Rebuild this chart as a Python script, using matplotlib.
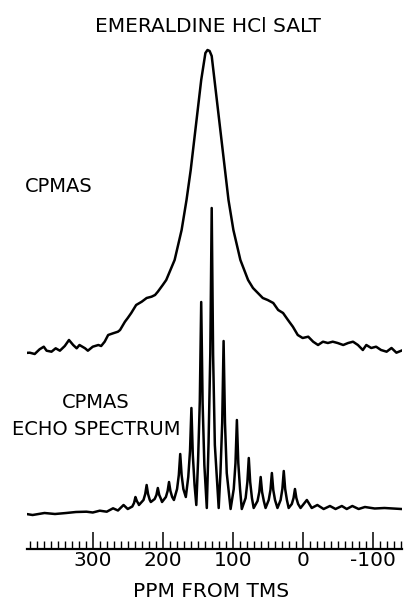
import matplotlib
matplotlib.use("Agg")
import matplotlib.pyplot as plt
import numpy as np

# ---- data ----
# CPMAS spectrum: chemical shift (ppm) and intensity (a.u.)
cpmas_ppm = [398, 390, 383, 376, 370, 366, 359, 353, 347, 340,
             334, 328, 323, 319, 311, 307, 300, 292, 288, 283,
             278, 271, 264, 261, 254, 250, 245, 238, 230, 223,
             216, 211, 207, 200, 195, 183, 173, 166, 160, 155,
             150, 145, 141, 139, 136, 133, 130, 126, 121, 116,
             111, 106, 99, 89, 78, 71, 64, 57, 50, 42,
             35, 28, 21, 14, 7, 0, -8, -15, -22, -29,
             -36, -43, -50, -58, -65, -72, -79, -86, -91, -98,
             -105, -112, -120, -127, -134, -141]
cpmas_int = [-1, -0.7, -2, 2.7, 5.3, 1.3, 0.3, 3.7, 1.3, 6,
             12, 7, 3.7, 7, 3.7, 1.3, 5.3, 7, 6, 10.3,
             17, 18.7, 20.3, 22, 30.3, 34, 39, 47, 50.3, 54,
             55.3, 57, 60.3, 67, 72, 92, 122, 152, 182, 212,
             242, 272, 290, 299, 302, 301, 296, 272, 242, 212,
             182, 152, 122, 92, 72, 64, 59, 54, 52, 49,
             42, 39, 32, 25.3, 17, 14, 15.3, 10.3, 7, 10.3,
             9, 10.3, 9, 7, 9, 10.3, 7, 2, 7, 4,
             5.3, 2, 0.3, 4, -0.7, 1.3]

# CPMAS echo spectrum (traced points: valleys, flanks and sideband tops)
echo_ppm = [395, 386, 369, 354, 338, 324, 309, 300, 290, 280,
            271, 264, 256, 250,
            243.5, 241, 239, 237, 234.5, 234,
            227.5, 225, 223, 221, 218.5, 217,
            211.5, 209, 207, 205, 202.5, 201,
            195.5, 193, 191, 189, 186.5, 184,
            179.5, 177, 175, 173, 170.5, 167,
            163.5, 161, 159, 157, 154.5, 152,
            149.5, 147, 145, 143, 140.5, 137,
            134.5, 132, 130, 128, 125.5, 120,
            117.5, 115, 113, 111, 108.5, 103,
            98.5, 96, 94, 92, 89.5, 87,
            81.5, 79, 77, 75, 72.5, 70,
            64.5, 62, 60, 58, 55.5, 53,
            48.5, 46, 44, 42, 39.5, 36,
            31.5, 29, 27, 25, 22.5, 20,
            15.5, 13, 11, 9, 6.5, 3,
            -6, -13, -21, -30, -39, -47, -56, -63, -71, -80,
            -89, -103, -117, -141]
echo_int = [-1, -2, 0, -1, 0, 1, 1.3, 0.5, 2.3, 1.3,
            4.7, 2.5, 8, 4,
            6.5, 10, 16, 12, 9, 8,
            13, 19, 28, 19, 13, 11,
            14, 18, 25, 18, 14, 11,
            16, 22, 31, 22, 16, 13,
            24, 38, 59, 38, 24, 16,
            36, 62, 105, 58, 28, 8,
            52, 112, 211, 110, 48, 5,
            70, 160, 305, 158, 68, 5,
            40, 90, 172, 90, 40, 4,
            24, 50, 93, 50, 24, 4,
            15, 31, 55, 31, 15, 5,
            12, 21, 36, 21, 12, 5,
            13, 23, 40, 23, 13, 5,
            13, 24, 42, 24, 13, 5,
            9, 15, 24, 15, 9, 5,
            13, 5, 8, 4, 7, 4, 7, 4, 7, 4,
            6, 4.5, 5, 4]

tick_values = [300, 200, 100, 0, -100]
tick_labels = ["300", "200", "100", "0", "-100"]

# ---- figure ----
W, H = 406, 604
fig = plt.figure(figsize=(W / 100, H / 100), dpi=100)
fig.patch.set_facecolor("white")

ax_left, ax_right, ax_bottom, ax_top = 27, 402, 549, 40
ax = fig.add_axes([ax_left / W, 1 - ax_bottom / H,
                   (ax_right - ax_left) / W, (ax_bottom - ax_top) / H])
ax.set_xlim(394, -142)
ax.set_ylim(0, 509)

cpmas_offset = 197
echo_offset = 36
ax.plot(cpmas_ppm, np.array(cpmas_int) + cpmas_offset, color="black",
        lw=1.8, solid_joinstyle="round")
ax.plot(echo_ppm, np.array(echo_int) + echo_offset, color="black",
        lw=1.8, solid_joinstyle="round")

for s in ["top", "right", "left"]:
    ax.spines[s].set_visible(False)
ax.spines["bottom"].set_linewidth(1.6)
ax.set_yticks([])
ax.set_xticks(tick_values)
ax.set_xticklabels(tick_labels)
ax.set_xticks(np.arange(-140, 391, 10), minor=True)
ax.tick_params(axis="x", which="major", direction="in", length=12.5,
               width=1.1, labelsize=14.5, pad=1.5)
ax.tick_params(axis="x", which="minor", direction="in", length=6,
               width=1.0)
ax.patch.set_alpha(0)

fs = 14.5
fig.text(208 / W, 1 - 32 / H, "EMERALDINE HCl SALT", ha="center",
         va="baseline", fontsize=fs)
fig.text(25 / W, 1 - 192 / H, "CPMAS", ha="left", va="baseline",
         fontsize=14)
fig.text(96 / W, 1 - 408 / H, "CPMAS", ha="center", va="baseline",
         fontsize=14)
fig.text(96 / W, 1 - 435 / H, "ECHO SPECTRUM", ha="center",
         va="baseline", fontsize=14)
fig.text(211 / W, 1 - 597 / H, "PPM FROM TMS", ha="center",
         va="baseline", fontsize=fs)

fig.savefig("out.png", dpi=100, facecolor="white")
